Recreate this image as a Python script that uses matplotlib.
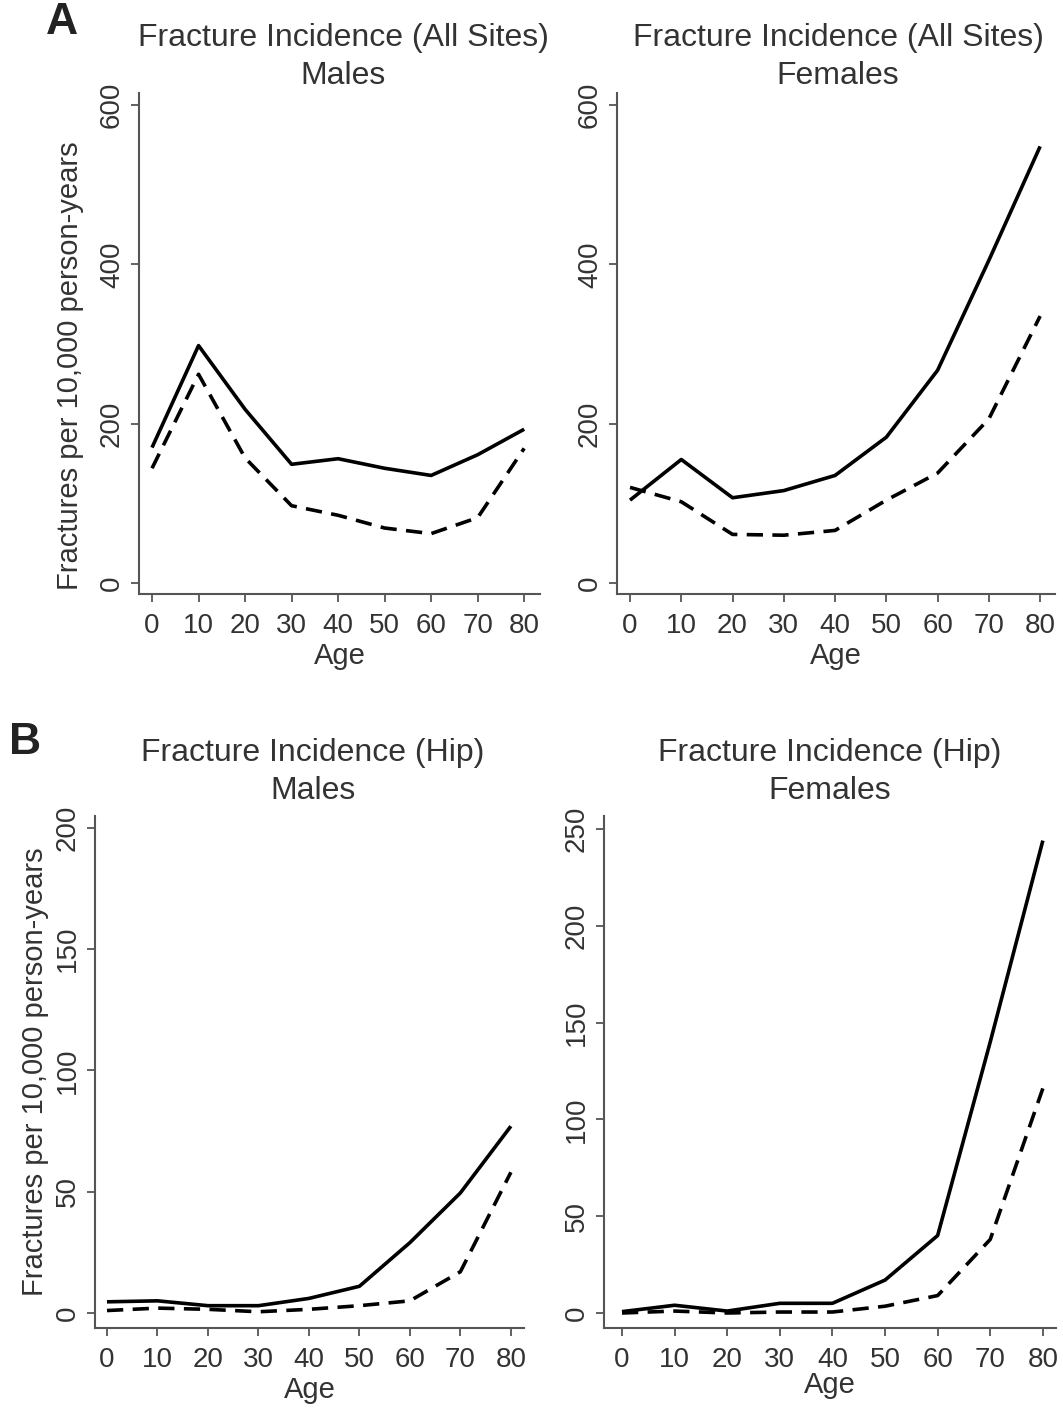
import matplotlib
matplotlib.use("Agg")
import matplotlib.pyplot as plt

plt.rcParams["font.family"] = ["Liberation Sans", "DejaVu Sans"]

ages = [0, 10, 20, 30, 40, 50, 60, 70, 80]

# all sites, per 10,000 person-years (solid / dashed)
all_male_solid = [170, 298, 218, 149, 156, 144, 135, 161, 193]
all_male_dash = [144, 262, 157, 97, 85, 69, 62, 82, 169]
all_female_solid = [104, 155, 107, 116, 135, 183, 267, 405, 548]
all_female_dash = [120, 102, 61, 60, 66, 104, 138, 206, 335]

# hip
hip_male_solid = [4.6, 5, 3, 3, 6, 11, 29, 49.5, 77]
hip_male_dash = [1, 2, 1.5, 0.5, 1.5, 3, 5, 17, 58]
hip_female_solid = [0.7, 4, 1, 5, 5, 17, 40, 140, 244]
hip_female_dash = [0, 1, 0, 0.5, 0.5, 3.5, 9, 38, 116]

W, H = 1063, 1414
txt = "#333333"
axc = "#555555"

fig = plt.figure(figsize=(W / 100, H / 100), dpi=100)


def make_ax(left, right, top, bottom):
    return fig.add_axes([left / W, 1 - bottom / H, (right - left) / W, (bottom - top) / H])


panels = [
    # axes box in px, xlim, ylim, yticks, title, title centre px, solid, dashed, ylabel pos, xlabel pad
    ((139, 540, 93, 594), (-2.8, 83.4), (-13.8, 615), [0, 200, 400, 600],
     "Fracture Incidence (All Sites)\nMales", (343, 57), all_male_solid, all_male_dash, (-0.137, 0.455), 2),
    ((617, 1055, 93, 594), (-2.54, 82.9), (-13.8, 615), [0, 200, 400, 600],
     "Fracture Incidence (All Sites)\nFemales", (838, 57), all_female_solid, all_female_dash, None, 2),
    ((95, 524, 816, 1328), (-2.38, 82.6), (-6.2, 204.9), [0, 50, 100, 150, 200],
     "Fracture Incidence (Hip)\nMales", (313, 772), hip_male_solid, hip_male_dash, (-0.107, 0.5), 2),
    ((604, 1056, 816, 1328), (-3.42, 82.5), (-7.75, 256.7), [0, 50, 100, 150, 200, 250],
     "Fracture Incidence (Hip)\nFemales", (830, 772), hip_female_solid, hip_female_dash, None, -2),
]

for box, xl, yl, yt, title, tpos, solid, dash, ylab, xpad in panels:
    ax = make_ax(*box)
    ax.plot(ages, solid, color="black", lw=2.6, solid_capstyle="butt")
    ax.plot(ages, dash, color="black", lw=2.6, dashes=(4.5, 2.6), dash_capstyle="butt")
    ax.set_xlim(*xl)
    ax.set_ylim(*yl)
    ax.set_xticks(ages)
    ax.set_yticks(yt)
    for s in ["top", "right"]:
        ax.spines[s].set_visible(False)
    for s in ["left", "bottom"]:
        ax.spines[s].set_color(axc)
        ax.spines[s].set_linewidth(1.5)
    ax.tick_params(colors=axc, labelcolor=txt, length=6, width=1.3, labelsize=20)
    ax.tick_params(axis="x", pad=8)
    ax.tick_params(axis="y", pad=4)
    for lab in ax.get_yticklabels():
        lab.set_rotation(90)
        lab.set_va("center")
    fig.text(tpos[0] / W, 1 - tpos[1] / H, title, fontsize=23, color=txt,
             ha="center", va="center", linespacing=1.35)
    ax.set_xlabel("Age", fontsize=21, color=txt, labelpad=xpad)
    if ylab:
        ax.set_ylabel("Fractures per 10,000 person-years", fontsize=21, color=txt)
        ax.yaxis.set_label_coords(*ylab)

fig.text(62 / W, 1 - 22 / H, "A", fontsize=32, fontweight="bold", ha="center", va="center", color="#222222")
fig.text(25 / W, 1 - 742 / H, "B", fontsize=32, fontweight="bold", ha="center", va="center", color="#222222")

fig.savefig("out.png", dpi=100)
